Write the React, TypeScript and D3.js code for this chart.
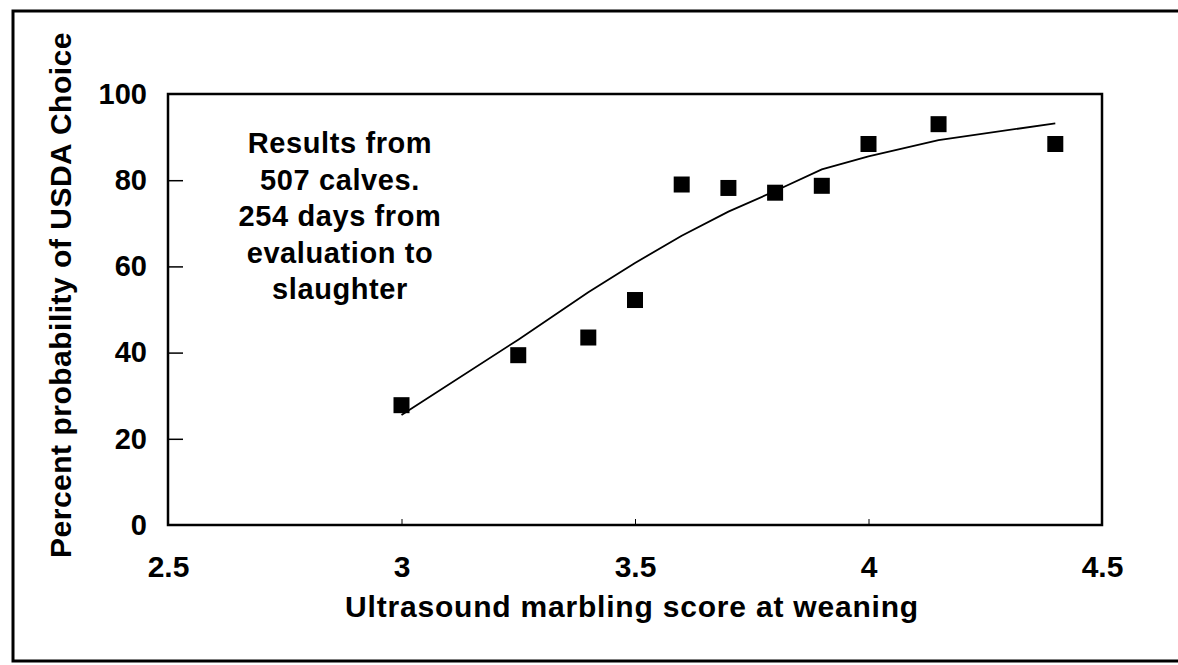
import React, { useEffect, useRef } from 'react'
import * as d3 from 'd3'

// marbling score at weaning (x), observed % Choice and fitted curve
const scores = [3.0, 3.25, 3.4, 3.5, 3.6, 3.7, 3.8, 3.9, 4.0, 4.15, 4.4]
const observed = [27.8, 39.4, 43.5, 52.2, 79, 78.2, 77.1, 78.7, 88.4, 93, 88.4]
const fitted = [25.5, 43, 54, 60.8, 67.1, 72.7, 77.5, 82.5, 85.5, 89.3, 93.2]

const xTicks = [2.5, 3, 3.5, 4, 4.5]
const yTicks = [0, 20, 40, 60, 80, 100]

const note = ['Results from', '507 calves.', '254 days from', 'evaluation to', 'slaughter']

const FONT = 'Liberation Sans, Arial, Helvetica, sans-serif'

export default function App() {
  const ref = useRef<SVGSVGElement>(null)

  useEffect(() => {
    const el = ref.current
    if (!el) return
    const svg = d3.select(el)
    svg.selectAll('*').remove()

    const left = 168, right = 1102, top = 94, bottom = 525
    const x = d3.scaleLinear().domain([2.5, 4.5]).range([left, right])
    const y = d3.scaleLinear().domain([0, 100]).range([bottom, top])

    // outer frame (open on the right)
    svg.append('path')
      .attr('d', `M1178,11H13V661H1178`)
      .attr('fill', 'none')
      .attr('stroke', '#000')
      .attr('stroke-width', 3)

    // y axis
    const yAxis = d3.axisLeft(y)
      .tickValues(yTicks)
      .tickSize(-15)
      .tickPadding(21)
      .tickFormat(d => String(d))
    const gy = svg.append('g').attr('transform', `translate(${left},0)`).call(yAxis)
    gy.select('.domain').remove()
    gy.selectAll('.tick line')
      .attr('stroke', '#000')
      .attr('stroke-width', 1.5)
      .attr('display', (d: any) => (d === 0 || d === 100 ? 'none' : null))
    gy.selectAll('.tick text')
      .attr('fill', '#000')
      .attr('font-size', 29)
      .attr('font-weight', 'bold')
      .attr('font-family', FONT)

    // x axis
    const xAxis = d3.axisBottom(x)
      .tickValues(xTicks)
      .tickSize(-6)
      .tickPadding(31)
      .tickFormat(d => String(d))
    const gx = svg.append('g').attr('transform', `translate(0,${bottom})`).call(xAxis)
    gx.select('.domain').remove()
    gx.selectAll('.tick line')
      .attr('stroke', '#000')
      .attr('stroke-width', 1)
      .attr('display', (d: any) => (d === 2.5 || d === 4.5 ? 'none' : null))
    gx.selectAll('.tick text')
      .attr('fill', '#000')
      .attr('font-size', 30)
      .attr('font-weight', 'bold')
      .attr('font-family', FONT)

    // plot box
    svg.append('rect')
      .attr('x', left)
      .attr('y', top)
      .attr('width', right - left)
      .attr('height', bottom - top)
      .attr('fill', 'none')
      .attr('stroke', '#000')
      .attr('stroke-width', 2.5)

    // fitted curve
    const line = d3.line<number>()
      .x((_, i) => x(scores[i]))
      .y(d => y(d))
    svg.append('path')
      .datum(fitted)
      .attr('fill', 'none')
      .attr('stroke', '#000')
      .attr('stroke-width', 1.8)
      .attr('d', line)

    // observed points
    const s = 16
    svg.append('g')
      .selectAll('rect')
      .data(observed)
      .join('rect')
      .attr('x', (_, i) => x(scores[i]) - s / 2)
      .attr('y', d => y(d) - s / 2)
      .attr('width', s)
      .attr('height', s)
      .attr('fill', '#000')

    // annotation
    const t = svg.append('text')
      .attr('font-size', 29)
      .attr('font-weight', 'bold')
      .attr('font-family', FONT)
      .attr('letter-spacing', 0.6)
      .attr('text-anchor', 'middle')
      .attr('fill', '#000')
    note.forEach((s, i) => {
      t.append('tspan').attr('x', 340).attr('y', 153 + i * 36.5).text(s)
    })

    // axis titles
    svg.append('text')
      .attr('x', (left + right) / 2 - 3)
      .attr('y', 617)
      .attr('text-anchor', 'middle')
      .attr('font-size', 30)
      .attr('font-weight', 'bold')
      .attr('font-family', FONT)
      .attr('letter-spacing', 0.8)
      .text('Ultrasound marbling score at weaning')

    svg.append('text')
      .attr('transform', 'translate(71,295) rotate(-90)')
      .attr('text-anchor', 'middle')
      .attr('font-size', 30)
      .attr('font-weight', 'bold')
      .attr('font-family', FONT)
      .attr('letter-spacing', 0.5)
      .text('Percent probability of USDA Choice')
  }, [])

  return (
    <svg
      ref={ref}
      width={1178}
      height={665}
      style={{ position: 'absolute', left: 0, top: 0, background: '#fff' }}
    />
  )
}
